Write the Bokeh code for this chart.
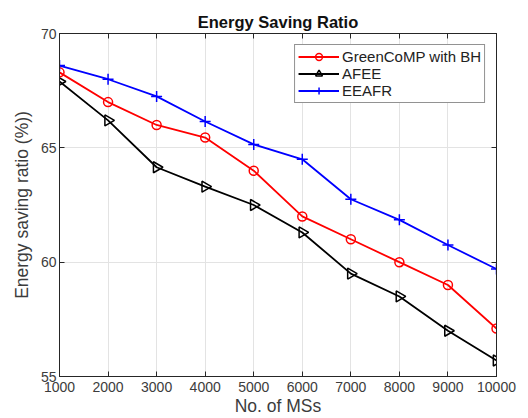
import numpy as np
from bokeh.plotting import figure
from bokeh.models import Range1d, FixedTicker, LinearAxis, Legend, LegendItem
from bokeh.embed import file_html
from bokeh.resources import INLINE

ms = [1000, 2000, 3000, 4000, 5000, 6000, 7000, 8000, 9000, 10000]
greencomp = [68.3, 67.0, 66.0, 65.45, 64.0, 62.0, 61.0, 60.0, 59.0, 57.1]
afee = [67.9, 66.2, 64.15, 63.3, 62.5, 61.3, 59.5, 58.5, 57.0, 55.7]
eeafr = [68.6, 68.0, 67.25, 66.15, 65.15, 64.5, 62.75, 61.85, 60.75, 59.7]
x_ticks = [1000, 2000, 3000, 4000, 5000, 6000, 7000, 8000, 9000, 10000]
y_ticks = [55, 60, 65, 70]

FONT = "Liberation Sans"
TXT = "#3c3c3c"

p = figure(width=528, height=418, output_backend="svg", toolbar_location=None,
           x_range=Range1d(1000, 10000), y_range=Range1d(55, 70),
           min_border_left=59, min_border_right=32, min_border_top=33,
           min_border_bottom=41)
p.title.text = "Energy Saving Ratio"
p.title.align = "center"
p.title.text_font = FONT
p.title.text_font_size = "16.5px"
p.title.text_font_style = "bold"
p.title.text_color = "#111111"
p.title.standoff = 5
p.outline_line_color = "#262626"
p.outline_line_width = 1

for ax in (p.xaxis[0], p.yaxis[0]):
    ax.major_tick_in = 5
    ax.major_tick_out = 0
    ax.minor_tick_line_color = None
    ax.axis_line_color = "#262626"
    ax.major_tick_line_color = "#262626"
    ax.major_label_text_font = FONT
    ax.major_label_text_font_size = "14px"
    ax.major_label_text_color = TXT
    ax.axis_label_text_font = FONT
    ax.axis_label_text_font_size = "17.5px"
    ax.axis_label_text_font_style = "normal"
    ax.axis_label_text_color = TXT

p.xaxis.ticker = FixedTicker(ticks=x_ticks)
p.yaxis.ticker = FixedTicker(ticks=y_ticks)
p.xaxis.axis_label = "No. of MSs"
p.yaxis.axis_label = "Energy saving ratio (%))"
p.xaxis.major_label_standoff = 5
p.xaxis.axis_label_standoff = 1
p.yaxis.major_label_standoff = 3
p.yaxis.axis_label_standoff = 6

for loc, tick in (("above", x_ticks), ("right", y_ticks)):
    ax = LinearAxis(ticker=FixedTicker(ticks=tick), major_tick_in=5, major_tick_out=0,
                    minor_tick_line_color=None, axis_line_color="#262626",
                    major_tick_line_color="#262626", major_label_text_font_size="0px",
                    major_label_standoff=0, major_label_text_color=None)
    p.add_layout(ax, loc)

p.grid.grid_line_color = "#e3e3e3"
p.grid.grid_line_width = 1

r1l = p.line(ms, greencomp, line_color="#ff0000", line_width=1.8)
r1m = p.scatter(ms, greencomp, marker="circle", size=9, line_color="#ff0000",
                fill_color=None, line_width=1.5)
r2l = p.line(ms, afee, line_color="#000000", line_width=1.8)
r2m = p.scatter(ms, afee, marker="triangle", angle=-np.pi / 2, size=11,
                line_color="#000000", fill_color=None, line_width=1.5)
r3l = p.line(ms, eeafr, line_color="#0000ff", line_width=1.8)
r3m = p.scatter(ms, eeafr, marker="cross", size=11, line_color="#0000ff",
                line_width=1.5)

legend = Legend(items=[
    LegendItem(label="GreenCoMP with BH", renderers=[r1l, r1m]),
    LegendItem(label="AFEE", renderers=[r2l, r2m]),
    LegendItem(label="EEAFR", renderers=[r3l, r3m]),
], location="top_right")
legend.label_text_font = FONT
legend.label_text_font_size = "15px"
legend.label_text_color = "#222222"
legend.border_line_color = "#262626"
legend.border_line_width = 1
legend.glyph_width = 41
legend.glyph_height = 17
legend.label_height = 17
legend.spacing = 0
legend.padding = 3
legend.margin = 11
legend.label_standoff = 3
legend.background_fill_alpha = 1
p.add_layout(legend)

open("out.html", "w").write(file_html(p, INLINE))
